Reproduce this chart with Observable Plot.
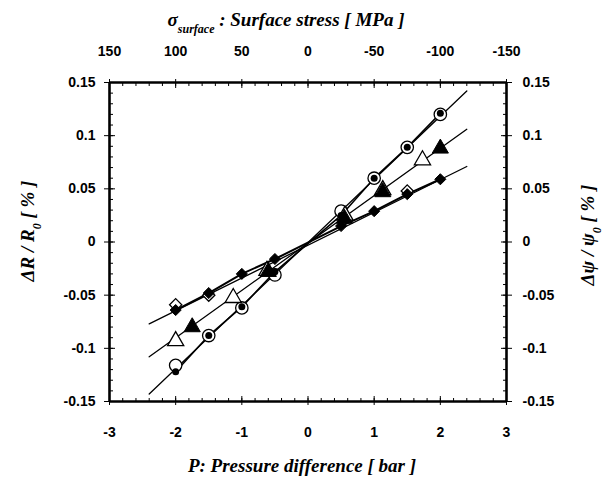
<!DOCTYPE html>
<html><head><meta charset="utf-8">
<script src="https://cdn.jsdelivr.net/npm/d3@7"></script>
<script src="https://cdn.jsdelivr.net/npm/@observablehq/plot@0.6"></script>
<style>body{margin:0;background:#fff}</style>
</head><body><div id="chart"></div>
<script>
// ---- tick values / labels ----
const xMajor = [-3, -2, -1, 0, 1, 2, 3];
const topLabels = ["150", "100", "50", "0", "-50", "-100", "-150"]; // surface stress [MPa] at each P tick
const yMajor = [-0.15, -0.1, -0.05, 0, 0.05, 0.1, 0.15];
const xMinor = d3.range(-30, 31, 2).map(d => d / 10);
const yMinor = d3.range(-15, 16, 1).map(d => d / 100);
const xEdges = [-3, 3];
const yEdges = [-0.15, 0.15];

// ---- fitted lines (end points) ----
const lineP = [-2.4, 2.4];
const lineSteep = [-0.143, 0.142];   // ΔR/R0
const lineMid = [-0.108, 0.106];     // Δψ/ψ0
const lineShallow = [-0.077, 0.071];

// ---- circles (ΔR/R0) ----
const circOpenP = [-2, -1.5, -1, -0.5, 0.5, 1, 1.5, 2];
const circOpenV = [-0.116, -0.088, -0.062, -0.031, 0.029, 0.060, 0.089, 0.120];
const circFillP = [-2, -1.5, -1, -0.5, 0.5, 1, 1.5, 2];
const circFillV = [-0.122, -0.088, -0.061, -0.028, 0.025, 0.060, 0.089, 0.121];

// ---- triangles (Δψ/ψ0) ----
const triOpenP = [-2, -1.13, -0.62, 0.56, 1.13, 1.73];
const triOpenV = [-0.093, -0.0525, -0.027, 0.025, 0.049, 0.077];
const triFillP = [-1.75, -0.6, 0.55, 1.13, 2];
const triFillV = [-0.080, -0.028, 0.022, 0.047, 0.088];

// ---- diamonds ----
const diaOpenP = [-2, -1.5, 1.5];
const diaOpenV = [-0.059, -0.050, 0.048];
const diaFillP = [-2, -1.5, -1, -0.5, 0.5, 1, 1.5, 2];
const diaFillV = [-0.064, -0.048, -0.030, -0.016, 0.015, 0.029, 0.045, 0.059];

const pts = (P, V) => P.map((p, i) => ({p, v: V[i]}));
const line = (V) => lineP.map((p, i) => ({p, v: V[i]}));
const topMap = new Map(xMajor.map((p, i) => [p, topLabels[i]]));

const font = "'Liberation Sans', Arial, sans-serif";
const chart = Plot.plot({
  width: 606, height: 479,
  marginLeft: 109, marginRight: 100, marginTop: 82, marginBottom: 78,
  x: {domain: [-3, 3]},
  y: {domain: [-0.15, 0.15]},
  style: {fontFamily: font, fontSize: "14px", fontWeight: "bold", background: "white", color: "black"},
  marks: [
    // minor ticks (inward)
    Plot.axisX(xMinor, {anchor: "bottom", tickSize: -3, tickFormat: () => "", label: null}),
    Plot.axisX(xMinor, {anchor: "top", tickSize: -3, tickFormat: () => "", label: null}),
    Plot.axisY(yMinor, {anchor: "left", tickSize: -4, tickFormat: () => "", label: null}),
    Plot.axisY(yMinor, {anchor: "right", tickSize: -4, tickFormat: () => "", label: null}),
    // major ticks (crossing)
    Plot.axisX(xMajor, {anchor: "bottom", tickSize: -5, tickFormat: () => "", label: null}),
    Plot.axisX(xMajor, {anchor: "top", tickSize: -5, tickFormat: () => "", label: null}),
    Plot.axisY(yMajor, {anchor: "left", tickSize: -6, tickFormat: () => "", label: null}),
    Plot.axisY(yMajor, {anchor: "right", tickSize: -6, tickFormat: () => "", label: null}),
    // labels
    Plot.axisX(xMajor, {anchor: "bottom", tickSize: 4, tickPadding: 22, tickFormat: d => String(d), label: null}),
    Plot.axisX(xMajor, {anchor: "top", tickSize: 4, tickPadding: 23, tickFormat: d => topMap.get(d), label: null}),
    Plot.axisY(yMajor, {anchor: "left", tickSize: 5, tickPadding: 9, tickFormat: d => String(d), label: null}),
    Plot.axisY(yMajor, {anchor: "right", tickSize: 5, tickPadding: 11, tickFormat: d => String(d), label: null}),
    // fitted lines
    Plot.line(line(lineSteep), {x: "p", y: "v", stroke: "black", strokeWidth: 1.3}),
    Plot.line(line(lineMid), {x: "p", y: "v", stroke: "black", strokeWidth: 1.3}),
    Plot.line(line(lineShallow), {x: "p", y: "v", stroke: "black", strokeWidth: 1.3}),
    // connecting lines of filled series
    Plot.line(pts(diaFillP, diaFillV), {x: "p", y: "v", stroke: "black", strokeWidth: 2}),
    Plot.line(pts(circFillP, circFillV), {x: "p", y: "v", stroke: "black", strokeWidth: 1.6}),
    // open markers
    Plot.dot(pts(circOpenP, circOpenV), {x: "p", y: "v", r: 6.2, fill: "white", stroke: "black", strokeWidth: 1.3}),
    Plot.dot(pts(triOpenP, triOpenV), {x: "p", y: "v", symbol: "triangle", r: 6, fill: "white", stroke: "black", strokeWidth: 1.3}),
    Plot.dot(pts(diaOpenP, diaOpenV), {x: "p", y: "v", symbol: "diamond2", r: 5.5, fill: "white", stroke: "black", strokeWidth: 1.3}),
    // filled markers
    Plot.dot(pts(circFillP, circFillV), {x: "p", y: "v", r: 3.5, fill: "black", stroke: "none"}),
    Plot.dot(pts(triFillP, triFillV), {x: "p", y: "v", symbol: "triangle", r: 6, fill: "black", stroke: "black", strokeWidth: 1}),
    Plot.dot(pts(diaFillP, diaFillV), {x: "p", y: "v", symbol: "diamond2", r: 5, fill: "black", stroke: "black", strokeWidth: 1}),
    // frame (drawn last)
    Plot.ruleX(xEdges, {x: d => d, stroke: "black", strokeWidth: 2.6}),
    Plot.ruleY(yEdges, {y: d => d, stroke: "black", strokeWidth: 2.6})
  ]
});

const svg = d3.select(chart);
const serif = "'Liberation Serif', 'Times New Roman', serif";
function title(x, y, rot, parts) {
  const t = svg.append("text")
    .attr("transform", `translate(${x},${y}) rotate(${rot})`)
    .attr("text-anchor", "middle")
    .attr("font-family", serif).attr("font-weight", "bold").attr("font-style", "italic")
    .attr("font-size", 19).attr("fill", "black");
  parts.forEach(([s, sub]) => {
    const ts = t.append("tspan").text(s);
    if (sub) ts.attr("font-size", 12).attr("baseline-shift", "sub");
  });
}
title(286, 26, 0, [["σ"], ["surface", true], [" : Surface stress [ MPa ]"]]);
title(302, 472, 0, [["P: Pressure difference [ bar ]"]]);
title(34, 231, -90, [["ΔR / R"], ["0", true], [" [ % ]"]]);
title(594, 235, -90, [["Δψ / ψ"], ["0", true], [" [ % ]"]]);

document.getElementById("chart").appendChild(chart);
</script>
</body></html>
